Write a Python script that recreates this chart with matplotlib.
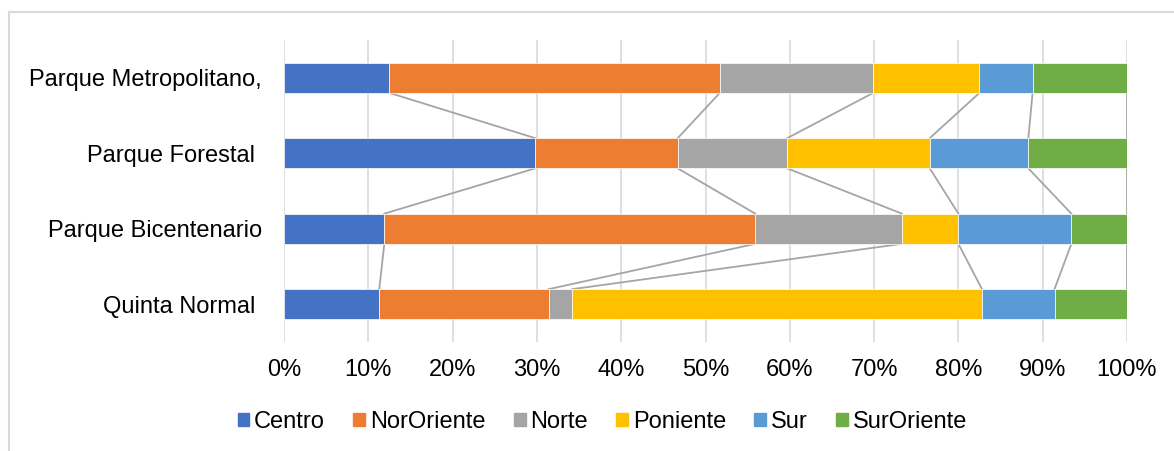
import numpy as np
import matplotlib
matplotlib.use("Agg")
import matplotlib.pyplot as plt
from matplotlib.patches import Patch
from matplotlib.lines import Line2D

# data (percent of visitors by zone), bottom category first
parks = ["Quinta Normal ", "Parque Bicentenario", "Parque Forestal ", "Parque Metropolitano,"]
zones = ["Centro", "NorOriente", "Norte", "Poniente", "Sur", "SurOriente"]
centro = [11.3, 11.9, 29.8, 12.5]
nororiente = [20.1, 44.0, 16.9, 39.2]
norte = [2.8, 17.4, 13.0, 18.2]
poniente = [48.6, 6.7, 16.9, 12.6]
sur = [8.6, 13.4, 11.7, 6.3]
suroriente = [8.6, 6.6, 11.7, 11.2]
colors = ["#4472C4", "#ED7D31", "#A5A5A5", "#FFC000", "#5B9BD5", "#70AD47"]

plt.rcParams['font.family'] = ['Liberation Sans', 'DejaVu Sans']

series = np.array([centro, nororiente, norte, poniente, sur, suroriente])
# normalise each park to 100%
series = series / series.sum(axis=0) * 100

fig = plt.figure(figsize=(11.74, 4.51), dpi=100)
ax = fig.add_axes([284/1174, 1-342/451, (1127-284)/1174, (342-40)/451])

y = np.arange(len(parks))
h = 0.4
left = np.zeros(len(parks))
for i in range(len(zones)):
    ax.barh(y, series[i], height=h, left=left, color=colors[i],
            edgecolor="white", linewidth=0.5, zorder=3, label=zones[i])
    left = left + series[i]

#series lines between the bars
cum = np.cumsum(series, axis=0)
for k in range(len(zones)):
    for j in range(len(parks)-1):
        ax.plot([cum[k][j], cum[k][j+1]], [y[j]+h/2, y[j+1]-h/2],
                color="#A5A5A5", lw=1.3, zorder=2)

ax.set_xlim(0, 100)
ax.set_ylim(-0.5, len(parks)-0.5)
ax.set_xticks(np.arange(0, 101, 10))
ax.set_xticklabels([f"{v}%" for v in range(0, 101, 10)])
ax.set_yticks(y)
ax.set_yticklabels(parks)
ax.tick_params(axis="both", length=0, labelsize=17)
ax.tick_params(axis="y", pad=16)
ax.tick_params(axis="x", pad=12)
ax.grid(axis="x", color="#D9D9D9", lw=1.2, zorder=0)
for s in ax.spines.values():
    s.set_visible(False)

handles = [Patch(color=c) for c in colors]
fig.legend(handles, zones, loc="center", bbox_to_anchor=(0.513, 1-422/451),
           ncol=6, frameon=False, fontsize=17, handlelength=0.5, handleheight=0.5,
           handletextpad=0.2, columnspacing=1.2)

# chart frame (only top and left visible in the crop)
fig.add_artist(Line2D([9/1174, 1], [1-12/451, 1-12/451], color="#D9D9D9", lw=1.5))
fig.add_artist(Line2D([9/1174, 9/1174], [0, 1-12/451], color="#D9D9D9", lw=1.5))

fig.savefig("out.png", dpi=100)
